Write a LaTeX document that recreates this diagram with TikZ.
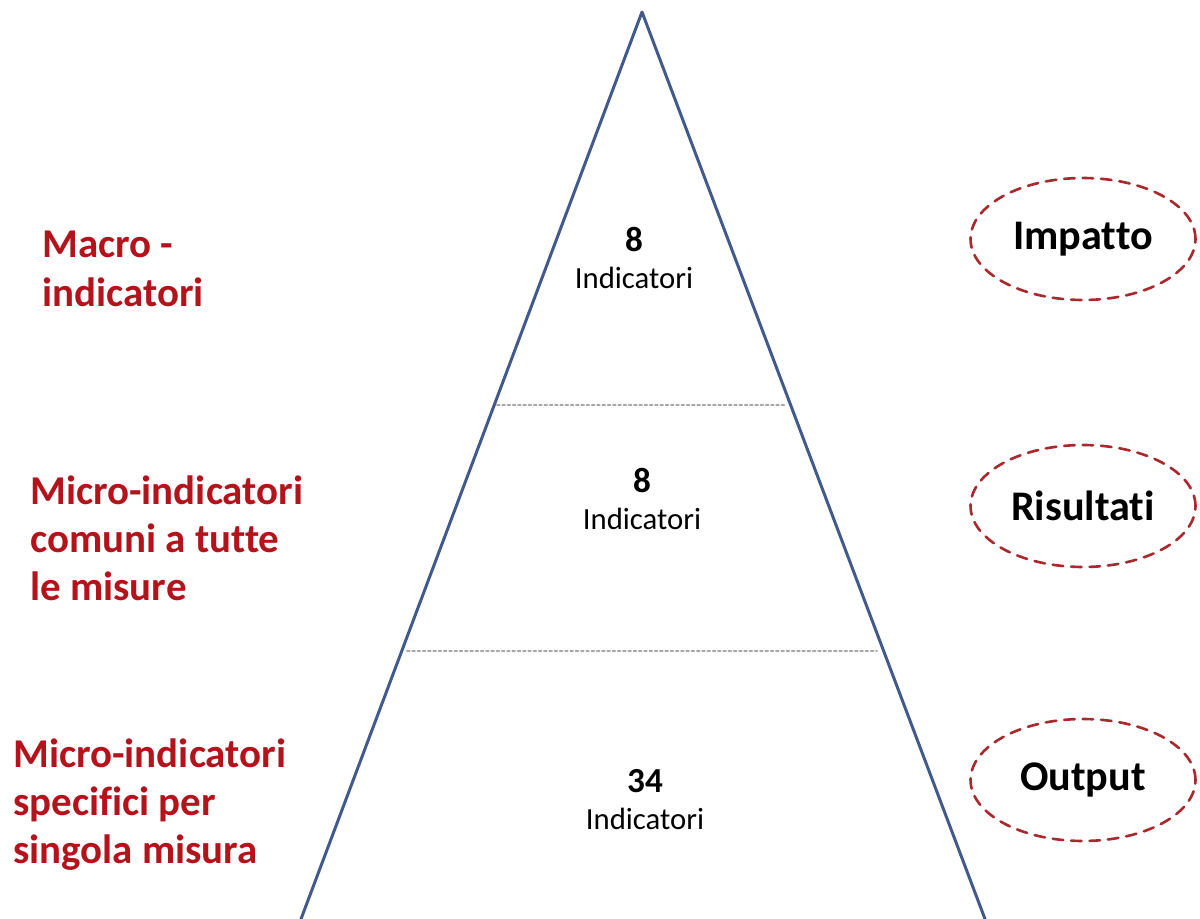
\documentclass[tikz,border=0pt]{standalone}
\usepackage{fontspec}
\setmainfont{Carlito}[Ligatures=CommonOff]
\usetikzlibrary{shapes.geometric}
\definecolor{piramide}{HTML}{41598C}
\definecolor{rosso}{HTML}{B3131B}
\definecolor{bordo}{HTML}{A82A2E}
\begin{document}
\begin{tikzpicture}[x=0.02cm, y=-0.02cm, line join=round, line cap=round,
	livello/.style={ellipse, draw=bordo, dash pattern=on 6pt off 4.5pt, line width=1.5pt, minimum width=4.5cm, minimum height=2.44cm, font=\fontsize{24}{28}\selectfont\bfseries},
	voce/.style={anchor=north west, align=left, text=rosso, inner sep=0pt, font=\fontsize{23.3}{27.5}\selectfont\bfseries},
	conta/.style={anchor=north, align=center, inner sep=0pt, font=\fontsize{17.5}{21}\selectfont}]
	\def\ex{1083} % centro delle ellissi
	\useasboundingbox (0,0) rectangle (1200,919);
	\coordinate (apex) at (642,12);
	\coordinate (baseL) at (301,919);
	\coordinate (baseR) at (985,919);
	\draw[piramide, line width=1.7pt] (baseL) -- (apex) -- (baseR);
	\coordinate (tagA1) at (497,405); \coordinate (tagA2) at (786,405);
	\coordinate (tagB1) at (407,651); \coordinate (tagB2) at (877,651);
	\draw[gray!70, line width=1pt, dash pattern=on 1.5pt off 1.5pt] (tagA1) -- (tagA2) (tagB1) -- (tagB2);
	\node[conta] (numA) at (634,227) {{\fontsize{20}{21}\selectfont\bfseries 8}\\Indicatori};
	\node[conta] (numB) at (642,468) {{\fontsize{20}{21}\selectfont\bfseries 8}\\Indicatori};
	\node[conta] (numC) at (645,769) {{\fontsize{20}{21}\selectfont\bfseries 34}\\Indicatori};
	\node[voce] (macro) at (42,231) {Macro -\\indicatori};
	\node[voce] (comuni) at (30,475) {Micro-indicatori\\comuni a tutte\\le misure};
	\node[voce] (specifici) at (13,738) {Micro-indicatori\\specifici per\\singola misura};
	\node[livello] (impatto) at (\ex,239) {Impatto};
	\node[livello] (risultati) at (\ex,506) {Risultati};
	\node[livello] (output) at (\ex,780) {Output};
\end{tikzpicture}
\end{document}
